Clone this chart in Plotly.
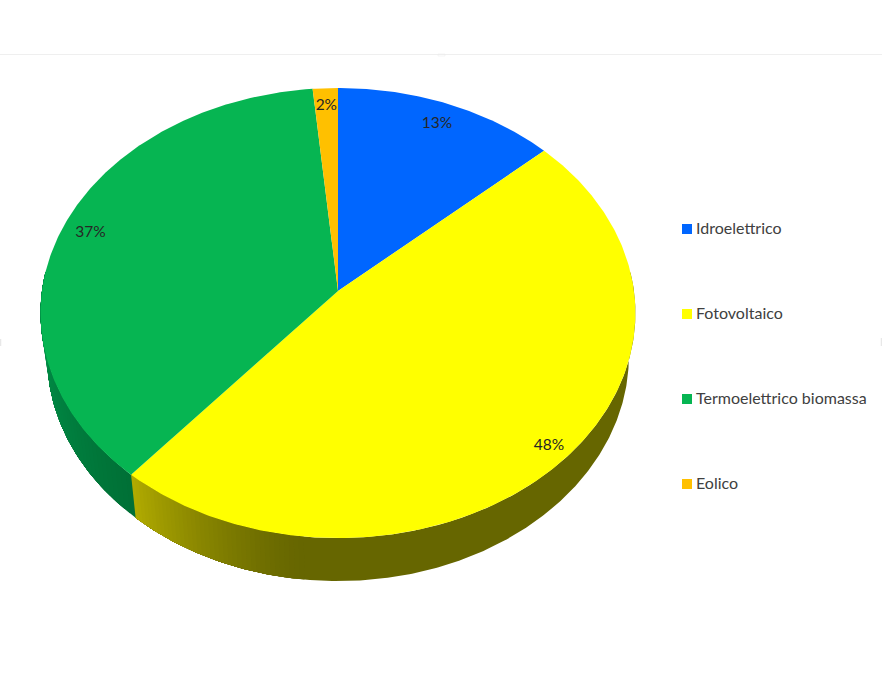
from __future__ import annotations

import numpy as np
import plotly.graph_objects as go


WIDTH = 882
HEIGHT = 682
FONT = "Lato"

CATEGORIES = ["Idroelettrico", "Fotovoltaico", "Termoelettrico biomassa", "Eolico"]
SHARES = [13.3, 47.9, 37.3, 1.5]
COLORS = ["#0066ff", "#ffff00", "#06b552", "#ffc000"]

# Apex of the pie and the perspective of the tilted disc, in page pixels.
CENTER_X = 338.0
CENTER_Y = 291.0
RADIUS_X = 296.0
RADIUS_Y = 222.9
TILT = 0.0978
DEPTH = 43.0
DEPTH_SHRINK = 0.978
LABEL_RADII = [0.89, 0.93, 0.90, 0.91]


def project(angle_deg, radius=1.0):
    """Angle clockwise from twelve o'clock on the disc to page pixels."""
    angle = np.radians(angle_deg)
    x = radius * np.sin(angle)
    y = radius * np.cos(angle)
    w = 1 + TILT * y
    return CENTER_X + RADIUS_X * x / w, CENTER_Y - RADIUS_Y * y / w


def project_lower(angle_deg):
    x, y = project(angle_deg)
    return CENTER_X + (x - CENTER_X) * DEPTH_SHRINK, y + DEPTH


def polygon_trace(x, y, color):
    return go.Scatter(
        x=x,
        y=y,
        mode="lines",
        fill="toself",
        fillcolor=color,
        line=dict(color=color, width=0),
        hoverinfo="skip",
        showlegend=False,
    )


def wall_trace(start, end, color):
    angles = np.linspace(start, end, max(2, int(abs(end - start)) * 2 + 2))
    top_x, top_y = project(angles)
    low_x, low_y = project_lower(angles)
    return polygon_trace(
        np.concatenate([top_x, low_x[::-1]]),
        np.concatenate([top_y, low_y[::-1]]),
        color,
    )


def mix(a, b, t):
    return "rgb({},{},{})".format(*[int(round(p + (q - p) * t)) for p, q in zip(a, b)])


def build_walls(edges):
    traces = []
    yellow_end = edges[2]
    # flat dark part of the yellow slice, then a fade to the seam with green.
    # Each band runs on to the end of the fade so neighbours never leave a gap.
    traces.append(wall_trace(85, 190, "#666600"))
    steps = np.linspace(186, yellow_end, 40)
    for i in range(len(steps) - 1):
        t = (i / (len(steps) - 2)) ** 1.3
        traces.append(wall_trace(steps[i], yellow_end, mix((102, 102, 0), (176, 170, 0), t)))
    steps = np.linspace(yellow_end, 275, 40)
    for i in range(len(steps) - 1):
        t = i / (len(steps) - 2)
        traces.append(wall_trace(steps[i], 275, mix((0, 112, 54), (0, 150, 76), t)))
    return traces


def build_top(edges):
    traces = []
    for i, color in enumerate(COLORS):
        angles = np.linspace(edges[i], edges[i + 1], max(2, int(edges[i + 1] - edges[i]) * 2 + 2))
        x, y = project(angles)
        traces.append(
            polygon_trace(
                np.concatenate([[CENTER_X], x, [CENTER_X]]),
                np.concatenate([[CENTER_Y], y, [CENTER_Y]]),
                color,
            )
        )
    return traces


def build_figure():
    edges = np.concatenate([[0.0], np.cumsum(SHARES)]) * 360.0 / sum(SHARES)
    mids = (edges[:-1] + edges[1:]) / 2

    fig = go.Figure()
    for trace in build_walls(edges):
        fig.add_trace(trace)
    for trace in build_top(edges):
        fig.add_trace(trace)

    label_x, label_y = project(mids, np.array(LABEL_RADII))
    fig.add_trace(
        go.Scatter(
            x=label_x,
            y=label_y + 1,
            mode="text",
            text=[f"{round(s + 1e-9):d}%" for s in SHARES],
            textposition="middle center",
            textfont=dict(family=FONT, size=15.5, color="#262626"),
            hoverinfo="skip",
            showlegend=False,
        )
    )

    # legend drawn by hand: plotly's own keeps the swatch too far from the text
    legend_y = np.array([229 + 85 * i for i in range(len(CATEGORIES))])
    fig.add_trace(
        go.Scatter(
            x=[687] * len(CATEGORIES),
            y=legend_y,
            mode="markers",
            marker=dict(symbol="square", size=10, color=COLORS),
            hoverinfo="skip",
            showlegend=False,
        )
    )
    fig.add_trace(
        go.Scatter(
            x=[696] * len(CATEGORIES),
            y=legend_y + 1,
            mode="text",
            text=CATEGORIES,
            textposition="middle right",
            textfont=dict(family=FONT, size=16, color="#404040"),
            hoverinfo="skip",
            showlegend=False,
        )
    )

    faint = dict(color="#e8e8e8", width=1.5)
    fig.update_layout(
        width=WIDTH,
        height=HEIGHT,
        margin=dict(l=0, r=0, t=0, b=0),
        paper_bgcolor="white",
        plot_bgcolor="white",
        showlegend=False,
        xaxis=dict(visible=False, range=[0, WIDTH], fixedrange=True),
        yaxis=dict(visible=False, range=[HEIGHT, 0], fixedrange=True),
        shapes=[
            dict(type="line", x0=0, x1=WIDTH, y0=54.5, y1=54.5, line=dict(color="#efefef", width=1)),
            # leftovers of the selection handles around the chart frame
            dict(type="rect", x0=438, x1=445, y0=54, y1=56, line=dict(color="#e8e8e8", width=0.5)),
            dict(type="line", x0=0.5, x1=0.5, y0=339, y1=346, line=faint),
            dict(type="line", x0=881.5, x1=881.5, y0=338, y1=346, line=faint),
        ],
    )
    return fig


def main():
    fig = build_figure()
    fig.write_html(
        "out.html",
        config={"displayModeBar": False},
        post_script="document.body.style.margin = '0'; document.body.style.overflow = 'hidden';",
    )


if __name__ == "__main__":
    main()
